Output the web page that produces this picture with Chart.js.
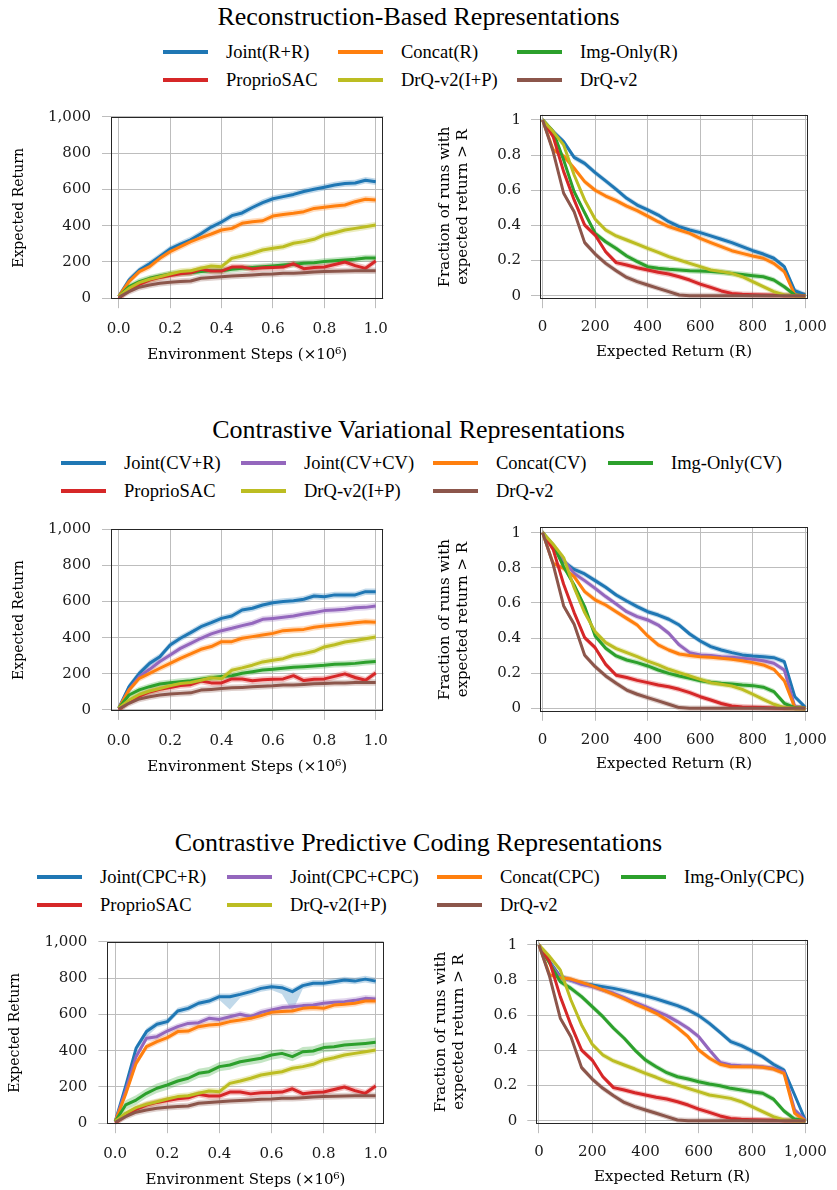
<!DOCTYPE html>
<html>
<head>
<meta charset="utf-8">
<script src="https://cdn.jsdelivr.net/npm/chart.js@4.4.0/dist/chart.umd.min.js"></script>
<style>
    body { margin: 0; background: #fff; width: 837px; height: 1190px; position: relative; overflow: hidden; font-family: "Liberation Serif", serif; color: #000; }
    .title { position: absolute; left: 0; width: 837px; height: 30px; line-height: 30px; text-align: center; font-size: 26px; }
    .legend-item { position: absolute; height: 24px; display: flex; align-items: center; font-size: 18.5px; white-space: nowrap; }
    .legend-item .swatch { width: 45px; height: 4px; margin-right: 18px; }
    canvas { position: absolute; }
</style>
</head>
<body>
<script>
// x samples
const STEPS = [0, 0.04, 0.08, 0.12, 0.16, 0.2, 0.24, 0.28, 0.32, 0.36, 0.4, 0.44, 0.48, 0.52, 0.56, 0.6, 0.64, 0.68, 0.72, 0.76, 0.8, 0.84, 0.88, 0.92, 0.96, 1.0];
const RETURN_LEVELS = [0, 40, 80, 120, 160, 200, 240, 280, 320, 360, 400, 440, 480, 520, 560, 600, 640, 680, 720, 760, 800, 840, 880, 920, 960, 1000];

// tick labels
const STEP_TICKS = [0, 0.2, 0.4, 0.6, 0.8, 1.0];
const RETURN_TICKS = [0, 200, 400, 600, 800, 1000];
const FRACTION_TICKS = [0, 0.2, 0.4, 0.6, 0.8, 1];

// learning curves (expected return vs steps)
const CURVE_PROPRIO = [0, 46, 77, 100, 115, 125, 135, 140, 160, 150, 150, 172, 172, 162, 168, 170, 172, 190, 163, 170, 172, 186, 200, 180, 165, 205];
const CURVE_DRQ_IP = [10, 55, 86, 105, 119, 134, 147, 152, 165, 178, 174, 220, 233, 248, 266, 275, 284, 303, 312, 325, 349, 361, 376, 385, 394, 404];
const CURVE_DRQ = [5, 37, 61, 73, 83, 88, 92, 95, 110, 114, 119, 123, 125, 128, 132, 134, 138, 138, 141, 145, 147, 149, 150, 152, 152, 152];

const CURVE_JOINT_R_R = [10, 100, 155, 190, 230, 272, 298, 322, 355, 392, 420, 455, 470, 500, 527, 548, 560, 572, 588, 600, 612, 624, 632, 635, 650, 642];
const CURVE_CONCAT_R = [10, 92, 147, 174, 220, 257, 284, 312, 334, 354, 376, 385, 413, 422, 427, 453, 462, 468, 477, 495, 501, 508, 514, 532, 545, 541];
const CURVE_IMG_ONLY_R = [10, 64, 92, 110, 123, 134, 138, 141, 147, 152, 152, 160, 165, 169, 174, 178, 183, 187, 193, 196, 202, 207, 211, 215, 222, 222];

const CURVE_JOINT_CV_R = [10, 129, 203, 258, 295, 360, 397, 428, 461, 483, 507, 520, 553, 563, 581, 594, 600, 605, 613, 631, 627, 637, 637, 637, 655, 655];
const CURVE_JOINT_CV_CV = [10, 111, 185, 225, 268, 304, 341, 369, 397, 421, 439, 452, 467, 480, 502, 507, 513, 520, 531, 539, 550, 553, 557, 566, 568, 576];
const CURVE_CONCAT_CV = [10, 111, 175, 203, 231, 258, 286, 310, 336, 351, 378, 378, 397, 406, 415, 424, 439, 443, 446, 458, 465, 470, 476, 483, 489, 485];
const CURVE_IMG_ONLY_CV = [10, 83, 111, 129, 144, 151, 157, 162, 170, 179, 185, 190, 203, 212, 221, 225, 231, 236, 240, 244, 247, 253, 255, 258, 264, 268];

const CURVE_JOINT_CPC_R = [10, 205, 413, 505, 545, 560, 618, 633, 661, 673, 697, 697, 710, 725, 743, 752, 747, 725, 758, 771, 771, 780, 789, 783, 794, 783];
const CURVE_JOINT_CPC_CPC = [10, 180, 367, 468, 477, 508, 532, 550, 554, 578, 572, 587, 600, 587, 611, 624, 637, 642, 648, 651, 661, 666, 670, 677, 688, 684];
const CURVE_CONCAT_CPC = [10, 160, 330, 422, 450, 472, 505, 508, 532, 541, 545, 560, 569, 578, 593, 611, 615, 618, 633, 637, 633, 651, 655, 661, 673, 673];
const CURVE_IMG_ONLY_CPC = [10, 101, 128, 165, 193, 211, 233, 248, 275, 284, 312, 321, 339, 349, 358, 376, 385, 367, 394, 398, 417, 422, 431, 435, 440, 446];
// the Joint(CPC+R) band dips well below its mean in two places
const BAND_LOW_JOINT_CPC_R = [18, 18, 18, 30, 18, 18, 18, 18, 18, 18, 18, 70, 18, 18, 18, 18, 35, 110, 18, 18, 18, 18, 18, 18, 18, 18];

// performance profiles (fraction of runs with return > R)
const PROFILE_PROPRIO = [1.0, 0.905, 0.706, 0.545, 0.402, 0.345, 0.25, 0.188, 0.175, 0.159, 0.146, 0.133, 0.123, 0.108, 0.089, 0.066, 0.047, 0.027, 0.013, 0.008, 0.006, 0.004, 0.002, 0, 0, 0];
const PROFILE_DRQ_IP = [1.0, 0.934, 0.858, 0.687, 0.545, 0.435, 0.374, 0.34, 0.317, 0.294, 0.269, 0.247, 0.222, 0.203, 0.184, 0.165, 0.146, 0.137, 0.127, 0.108, 0.08, 0.051, 0.023, 0.004, 0, 0];
const PROFILE_DRQ = [1.0, 0.82, 0.583, 0.478, 0.302, 0.237, 0.184, 0.142, 0.104, 0.08, 0.061, 0.042, 0.023, 0.004, 0, 0, 0, 0, 0, 0, 0, 0, 0, 0, 0, 0];

const PROFILE_JOINT_R_R = [1.0, 0.934, 0.877, 0.787, 0.753, 0.7, 0.653, 0.605, 0.554, 0.516, 0.488, 0.459, 0.421, 0.393, 0.374, 0.359, 0.34, 0.321, 0.302, 0.279, 0.256, 0.237, 0.213, 0.165, 0.028, 0.004];
const PROFILE_CONCAT_R = [1.0, 0.83, 0.795, 0.725, 0.649, 0.6, 0.567, 0.541, 0.51, 0.484, 0.453, 0.421, 0.393, 0.374, 0.355, 0.326, 0.302, 0.279, 0.256, 0.241, 0.226, 0.213, 0.184, 0.137, 0.004, 0];
const PROFILE_IMG_ONLY_R = [1.0, 0.934, 0.772, 0.592, 0.472, 0.355, 0.307, 0.269, 0.226, 0.194, 0.165, 0.156, 0.15, 0.146, 0.142, 0.14, 0.137, 0.133, 0.127, 0.121, 0.114, 0.108, 0.089, 0.051, 0.004, 0];

const PROFILE_JOINT_CV_R = [1.0, 0.92, 0.835, 0.791, 0.765, 0.727, 0.689, 0.645, 0.611, 0.579, 0.55, 0.531, 0.507, 0.474, 0.423, 0.383, 0.351, 0.332, 0.317, 0.304, 0.298, 0.294, 0.288, 0.266, 0.066, 0.006];
const PROFILE_JOINT_CV_CV = [1.0, 0.92, 0.844, 0.768, 0.727, 0.683, 0.636, 0.594, 0.55, 0.522, 0.503, 0.474, 0.427, 0.361, 0.317, 0.304, 0.3, 0.294, 0.29, 0.285, 0.279, 0.271, 0.256, 0.218, 0.009, 0];
const PROFILE_CONCAT_CV = [1.0, 0.825, 0.797, 0.75, 0.664, 0.617, 0.588, 0.55, 0.512, 0.474, 0.412, 0.361, 0.332, 0.309, 0.3, 0.294, 0.29, 0.285, 0.279, 0.271, 0.26, 0.247, 0.222, 0.157, 0.004, 0];
const PROFILE_IMG_ONLY_CV = [1.0, 0.93, 0.806, 0.702, 0.579, 0.412, 0.342, 0.298, 0.275, 0.26, 0.241, 0.218, 0.199, 0.184, 0.171, 0.157, 0.148, 0.142, 0.139, 0.133, 0.129, 0.12, 0.095, 0.028, 0.004, 0];

const PROFILE_JOINT_CPC_R = [1.0, 0.905, 0.82, 0.8, 0.782, 0.772, 0.763, 0.753, 0.74, 0.725, 0.71, 0.693, 0.674, 0.655, 0.63, 0.598, 0.554, 0.503, 0.45, 0.427, 0.397, 0.364, 0.321, 0.288, 0.146, 0.004];
const PROFILE_JOINT_CPC_CPC = [1.0, 0.9, 0.814, 0.8, 0.776, 0.763, 0.744, 0.725, 0.7, 0.674, 0.649, 0.624, 0.598, 0.564, 0.526, 0.478, 0.402, 0.332, 0.317, 0.313, 0.311, 0.307, 0.298, 0.279, 0.061, 0.004];
const PROFILE_CONCAT_CPC = [1.0, 0.83, 0.814, 0.806, 0.787, 0.767, 0.744, 0.719, 0.693, 0.664, 0.639, 0.611, 0.573, 0.529, 0.478, 0.402, 0.355, 0.321, 0.307, 0.307, 0.307, 0.304, 0.294, 0.269, 0.042, 0];
const PROFILE_IMG_ONLY_CPC = [1.0, 0.896, 0.791, 0.753, 0.706, 0.649, 0.592, 0.526, 0.469, 0.402, 0.345, 0.307, 0.273, 0.25, 0.237, 0.222, 0.209, 0.199, 0.184, 0.175, 0.165, 0.156, 0.123, 0.055, 0.009, 0];

const COLORS = {
    joint: "#1f77b4",
    joint2: "#9467bd",
    concat: "#ff7f0e",
    img: "#2ca02c",
    proprio: "#d62728",
    drqIP: "#bcbd22",
    drq: "#8c564b",
};

const BASELINES = [
    { label: "ProprioSAC", color: COLORS.proprio, curve: CURVE_PROPRIO, profile: PROFILE_PROPRIO },
    { label: "DrQ-v2(I+P)", color: COLORS.drqIP, curve: CURVE_DRQ_IP, profile: PROFILE_DRQ_IP },
    { label: "DrQ-v2", color: COLORS.drq, curve: CURVE_DRQ, profile: PROFILE_DRQ },
];

const PANELS = [
    {
        title: "Reconstruction-Based Representations",
        series: [
            { label: "Joint(R+R)", color: COLORS.joint, curve: CURVE_JOINT_R_R, profile: PROFILE_JOINT_R_R },
            { label: "Concat(R)", color: COLORS.concat, curve: CURVE_CONCAT_R, profile: PROFILE_CONCAT_R },
            { label: "Img-Only(R)", color: COLORS.img, curve: CURVE_IMG_ONLY_R, profile: PROFILE_IMG_ONLY_R },
            ...BASELINES,
        ],
        layout: {
            titleY: 17, legendY: [52, 80], legendX: [163, 338, 517],
            curvePlot: { L: 111, R: 389, T: 116.7, B: 299.2 },
            profilePlot: { L: 540, R: 817, T: 114.7, B: 299.2 },
        },
    },
    {
        title: "Contrastive Variational Representations",
        series: [
            { label: "Joint(CV+R)", color: COLORS.joint, curve: CURVE_JOINT_CV_R, profile: PROFILE_JOINT_CV_R },
            { label: "Joint(CV+CV)", color: COLORS.joint2, curve: CURVE_JOINT_CV_CV, profile: PROFILE_JOINT_CV_CV },
            { label: "Concat(CV)", color: COLORS.concat, curve: CURVE_CONCAT_CV, profile: PROFILE_CONCAT_CV },
            { label: "Img-Only(CV)", color: COLORS.img, curve: CURVE_IMG_ONLY_CV, profile: PROFILE_IMG_ONLY_CV },
            ...BASELINES,
        ],
        layout: {
            titleY: 430, legendY: [463, 491], legendX: [61, 241, 433, 608],
            curvePlot: { L: 111, R: 389, T: 529.3, B: 710.9 },
            profilePlot: { L: 540, R: 817, T: 527.4, B: 711.8 },
        },
    },
    {
        title: "Contrastive Predictive Coding Representations",
        series: [
            { label: "Joint(CPC+R)", color: COLORS.joint, curve: CURVE_JOINT_CPC_R, profile: PROFILE_JOINT_CPC_R, bandLow: BAND_LOW_JOINT_CPC_R },
            { label: "Joint(CPC+CPC)", color: COLORS.joint2, curve: CURVE_JOINT_CPC_CPC, profile: PROFILE_JOINT_CPC_CPC },
            { label: "Concat(CPC)", color: COLORS.concat, curve: CURVE_CONCAT_CPC, profile: PROFILE_CONCAT_CPC },
            { label: "Img-Only(CPC)", color: COLORS.img, curve: CURVE_IMG_ONLY_CPC, profile: PROFILE_IMG_ONLY_CPC, band: 26 },
            ...BASELINES,
        ],
        layout: {
            titleY: 843, legendY: [877, 905], legendX: [37, 227, 437, 621],
            curvePlot: { L: 107.4, R: 387.2, T: 941.7, B: 1124.2 },
            profilePlot: { L: 536.3, R: 813.4, T: 939.7, B: 1124.2 },
        },
    },
];

const TICK_COLOR = "#1a1a1a";
const GRID_COLOR = "#bdbdbd";
Chart.defaults.font.family = "DejaVu Serif";

function withAlpha(hex, alpha) {
    const n = parseInt(hex.slice(1), 16);
    return `rgba(${(n >> 16) & 255},${(n >> 8) & 255},${n & 255},${alpha})`;
}

const framePlugin = {
    id: "frame",
    afterDatasetsDraw(chart) {
        const { ctx, chartArea: a } = chart;
        const l = Math.round(a.left) + 0.5;
        const t = Math.round(a.top) + 0.5;
        const r = Math.round(a.right) - 0.5;
        const b = Math.round(a.bottom) - 0.5;
        ctx.save();
        ctx.strokeStyle = "#262626";
        ctx.lineWidth = 1;
        ctx.strokeRect(l, t, r - l, b - t);
        ctx.restore();
    },
};

function buildDatasets(xs, series, key, spread) {
    const datasets = [];
    const n = series.length;
    series.forEach((s, k) => {
        const ys = s[key];
        const up = key === "curve" && s.band ? s.band : spread;
        const low = key === "curve" && s.bandLow ? s.bandLow : null;
        const hidden = { pointRadius: 0, borderWidth: 0, borderColor: "transparent", order: 100 + n - k };
        datasets.push({
            ...hidden,
            data: ys.map((y, i) => ({ x: xs[i], y: y - (low ? low[i] : up) })),
            fill: false,
        });
        datasets.push({
            ...hidden,
            data: ys.map((y, i) => ({ x: xs[i], y: y + up })),
            fill: "-1",
            backgroundColor: withAlpha(s.color, 0.28),
        });
        datasets.push({
            label: s.label,
            data: ys.map((y, i) => ({ x: xs[i], y })),
            borderColor: s.color,
            borderWidth: 3,
            borderJoinStyle: "round",
            pointRadius: 0,
            tension: 0,
            fill: false,
            order: n - k,
        });
    });
    return datasets;
}

function axis(opts) {
    return {
        type: "linear",
        min: opts.min,
        max: opts.max,
        afterBuildTicks(scale) {
            scale.ticks = opts.ticks.map((v) => ({ value: v }));
        },
        afterFit(scale) {
            if (opts.width != null) scale.width = opts.width;
            if (opts.height != null) scale.height = opts.height;
        },
        grid: { color: GRID_COLOR, lineWidth: 1, tickLength: 9, drawTicks: true },
        border: { display: false },
        ticks: {
            autoSkip: false,
            maxRotation: 0,
            padding: opts.padding,
            color: TICK_COLOR,
            font: { size: 15 },
            callback: opts.format,
        },
        title: opts.title,
    };
}

function makeChart(plot, axisWidth, rightEdge, datasets, xOpts, yOpts, xTitleGap) {
    const left = Math.floor(plot.L - axisWidth);
    const top = Math.floor(plot.T - 25);
    const width = rightEdge - left;
    const height = Math.ceil(plot.B + 72) - top;
    const xHeight = top + height - plot.B;

    const canvas = document.createElement("canvas");
    canvas.width = width;
    canvas.height = height;
    canvas.style.left = `${left}px`;
    canvas.style.top = `${top}px`;
    canvas.style.width = `${width}px`;
    canvas.style.height = `${height}px`;
    document.body.appendChild(canvas);

    xOpts.height = xHeight;
    xOpts.title.padding = { top: 0, bottom: xHeight - xTitleGap - 9 };
    yOpts.width = plot.L - left;

    new Chart(canvas.getContext("2d"), {
        type: "line",
        data: { datasets },
        options: {
            responsive: false,
            animation: false,
            devicePixelRatio: 1,
            layout: { padding: { left: 0, top: plot.T - top, right: width - (plot.R - left), bottom: 0 } },
            plugins: {
                legend: { display: false },
                tooltip: { enabled: false },
                filler: { drawTime: "beforeDatasetsDraw", propagate: false },
            },
            scales: { x: axis(xOpts), y: axis(yOpts) },
        },
        plugins: [framePlugin],
    });
}

function addText(panel) {
    const lay = panel.layout;
    const title = document.createElement("div");
    title.className = "title";
    title.style.top = `${lay.titleY - 15}px`;
    title.textContent = panel.title;
    document.body.appendChild(title);

    const ncol = lay.legendX.length;
    panel.series.forEach((s, i) => {
        const item = document.createElement("div");
        item.className = "legend-item";
        item.style.left = `${lay.legendX[i % ncol]}px`;
        item.style.top = `${lay.legendY[Math.floor(i / ncol)] - 12}px`;
        const sw = document.createElement("span");
        sw.className = "swatch";
        sw.style.background = s.color;
        const txt = document.createElement("span");
        txt.textContent = s.label;
        item.appendChild(sw);
        item.appendChild(txt);
        document.body.appendChild(item);
    });
}

PANELS.forEach((panel) => {
    addText(panel);
    const lay = panel.layout;

    makeChart(
        lay.curvePlot, 111, 400,
        buildDatasets(STEPS, panel.series, "curve", 18),
        {
            min: -0.03, max: 1.03, ticks: STEP_TICKS, padding: 12,
            format: (v) => Number(v).toFixed(1),
            title: { display: true, text: "Environment Steps (×10⁶)", color: "#000", font: { size: 15 } },
        },
        {
            min: -5, max: 1000, ticks: RETURN_TICKS, padding: 11,
            format: (v) => Number(v).toLocaleString("en-US"),
            title: { display: true, text: "Expected Return", color: "#000", font: { size: 14 }, padding: { top: 10.6, bottom: 0 } },
        },
        55.8,
    );

    makeChart(
        lay.profilePlot, 120, 837,
        buildDatasets(RETURN_LEVELS, panel.series, "profile", 0.016),
        {
            min: -10, max: 1010, ticks: RETURN_TICKS, padding: 10,
            format: (v) => Number(v).toLocaleString("en-US"),
            title: { display: true, text: "Expected Return (R)", color: "#000", font: { size: 15 } },
        },
        {
            min: -0.02, max: 1.03, ticks: FRACTION_TICKS, padding: 10,
            format: (v) => String(v),
            title: { display: true, text: ["Fraction of runs with", "expected return > R"], color: "#000", font: { size: 15 }, padding: { top: 16, bottom: 0 } },
        },
        52.8,
    );
});
</script>
</body>
</html>
